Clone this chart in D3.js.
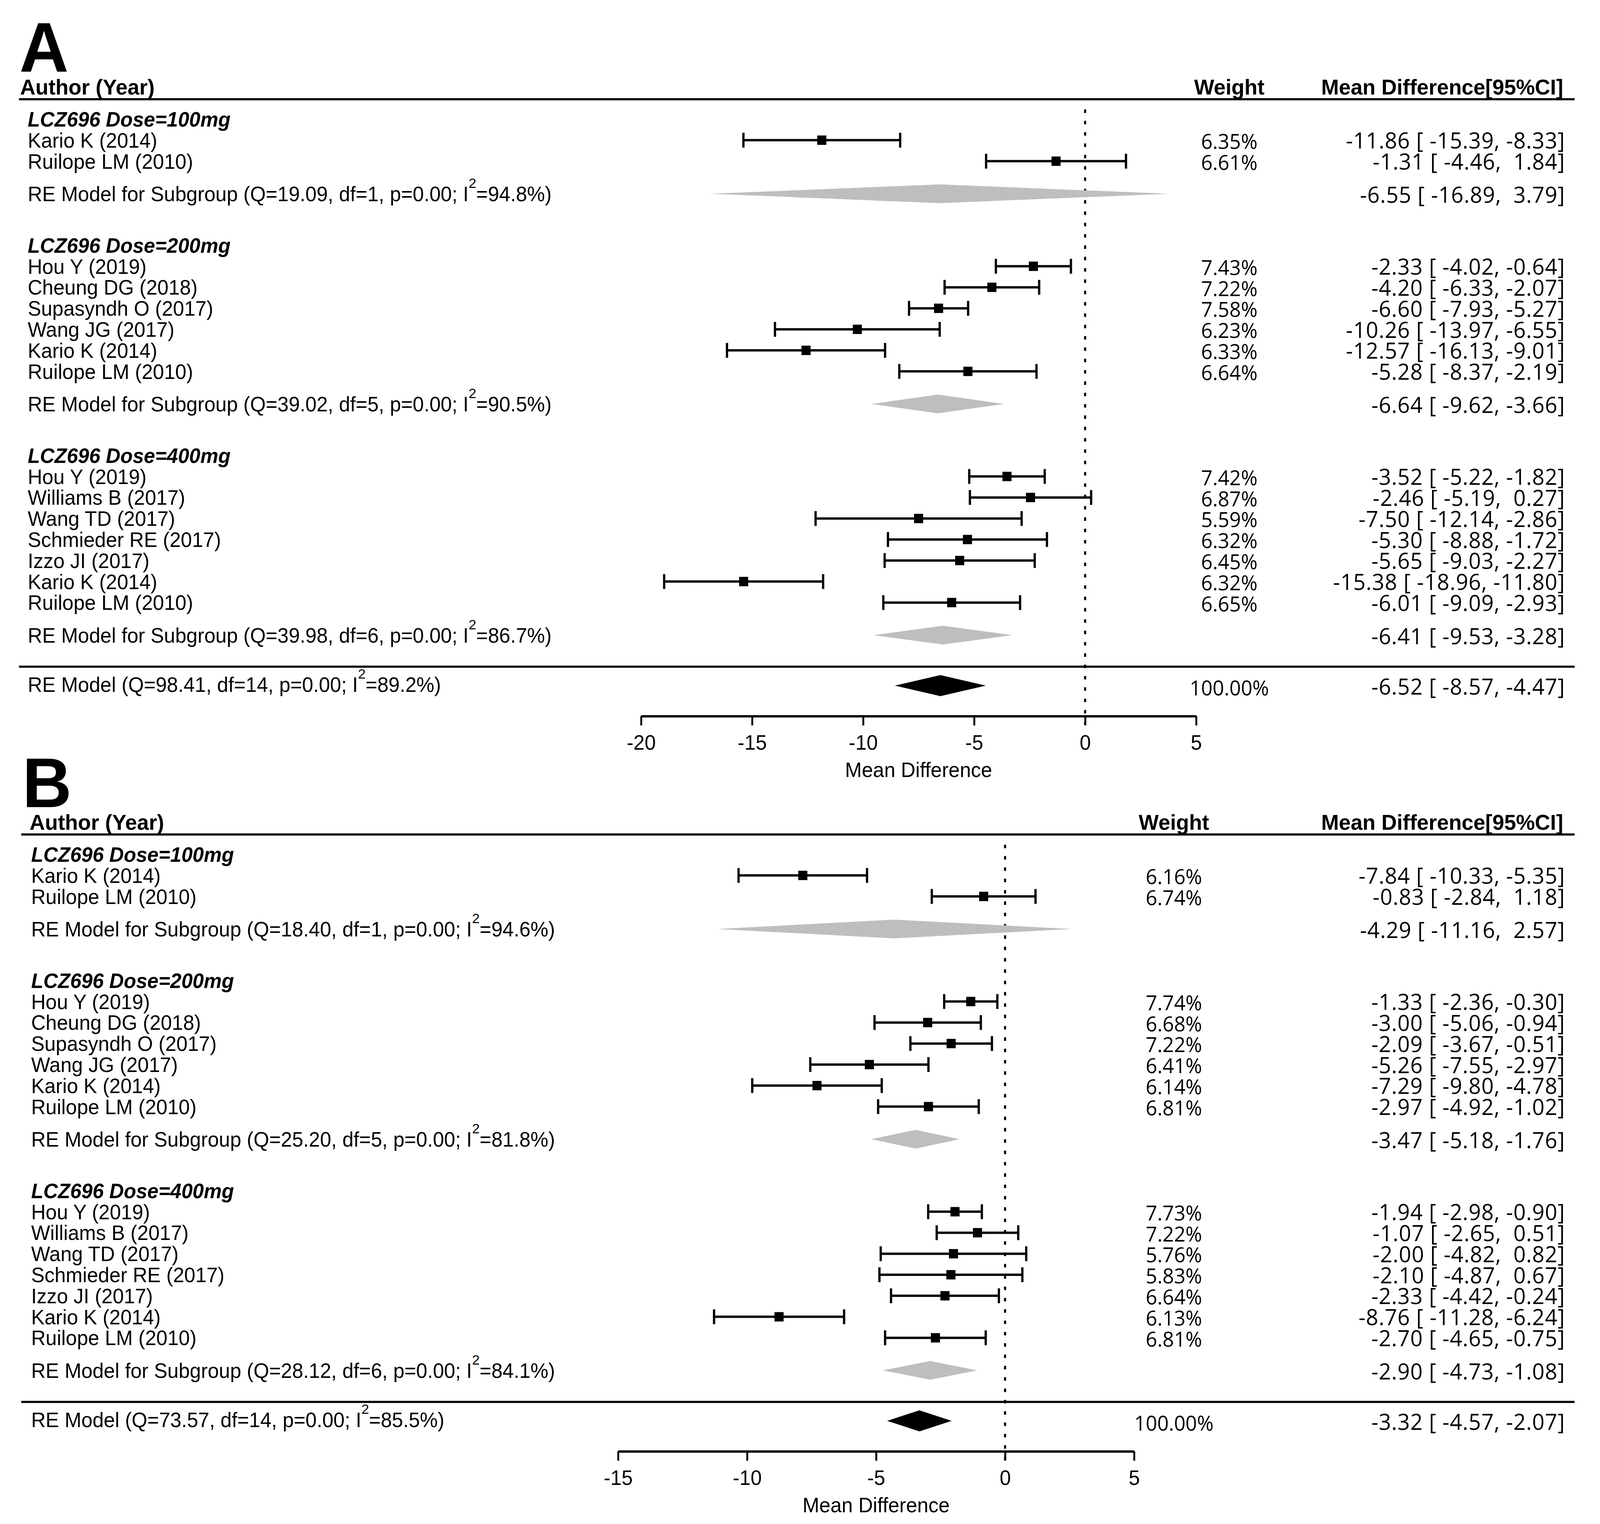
<!DOCTYPE html>
<html>
<head>
<meta charset="utf-8">
<script src="https://cdn.jsdelivr.net/npm/d3@7"></script>
<style>
    html, body { margin: 0; padding: 0; background: #fff; overflow: hidden; }
    #chart svg { display: block; width: 100vw; height: 100vh; }
    text { font-family: "Liberation Sans", Arial, sans-serif; fill: #000; }
    .num { font-family: "Open Sans", sans-serif; white-space: pre; }
    .ci { letter-spacing: 1px; }
</style>
</head>
<body>
<div id="chart"></div>
<script>
// ---- data ----
const doseGroups = ["LCZ696 Dose=100mg", "LCZ696 Dose=200mg", "LCZ696 Dose=400mg"];
const studies = ["Kario K (2014)", "Ruilope LM (2010)",
    "Hou Y (2019)", "Cheung DG (2018)", "Supasyndh O (2017)", "Wang JG (2017)", "Kario K (2014)", "Ruilope LM (2010)",
    "Hou Y (2019)", "Williams B (2017)", "Wang TD (2017)", "Schmieder RE (2017)", "Izzo JI (2017)", "Kario K (2014)", "Ruilope LM (2010)"];
const studyGroup = [0, 0, 1, 1, 1, 1, 1, 1, 2, 2, 2, 2, 2, 2, 2];
const xTicksA = [-20, -15, -10, -5, 0, 5];
const xTicksB = [-15, -10, -5, 0, 5];

// panel A
const meanA = [-11.86, -1.31, -2.33, -4.20, -6.60, -10.26, -12.57, -5.28, -3.52, -2.46, -7.50, -5.30, -5.65, -15.38, -6.01];
const lowA = [-15.39, -4.46, -4.02, -6.33, -7.93, -13.97, -16.13, -8.37, -5.22, -5.19, -12.14, -8.88, -9.03, -18.96, -9.09];
const highA = [-8.33, 1.84, -0.64, -2.07, -5.27, -6.55, -9.01, -2.19, -1.82, 0.27, -2.86, -1.72, -2.27, -11.80, -2.93];
const weightA = [6.35, 6.61, 7.43, 7.22, 7.58, 6.23, 6.33, 6.64, 7.42, 6.87, 5.59, 6.32, 6.45, 6.32, 6.65];
const subMeanA = [-6.55, -6.64, -6.41];
const subLowA = [-16.89, -9.62, -9.53];
const subHighA = [3.79, -3.66, -3.28];
const subQA = [19.09, 39.02, 39.98];
const subDfA = [1, 5, 6];
const subI2A = [94.8, 90.5, 86.7];
const totalA = [-6.52, -8.57, -4.47];   // mean, low, high
const totalHetA = [98.41, 14, 89.2];    // Q, df, I2

// panel B
const meanB = [-7.84, -0.83, -1.33, -3.00, -2.09, -5.26, -7.29, -2.97, -1.94, -1.07, -2.00, -2.10, -2.33, -8.76, -2.70];
const lowB = [-10.33, -2.84, -2.36, -5.06, -3.67, -7.55, -9.80, -4.92, -2.98, -2.65, -4.82, -4.87, -4.42, -11.28, -4.65];
const highB = [-5.35, 1.18, -0.30, -0.94, -0.51, -2.97, -4.78, -1.02, -0.90, 0.51, 0.82, 0.67, -0.24, -6.24, -0.75];
const weightB = [6.16, 6.74, 7.74, 6.68, 7.22, 6.41, 6.14, 6.81, 7.73, 7.22, 5.76, 5.83, 6.64, 6.13, 6.81];
const subMeanB = [-4.29, -3.47, -2.90];
const subLowB = [-11.16, -5.18, -4.73];
const subHighB = [2.57, -1.76, -1.08];
const subQB = [18.40, 25.20, 28.12];
const subDfB = [1, 5, 6];
const subI2B = [94.6, 81.8, 84.1];
const totalB = [-3.32, -4.57, -2.07];
const totalHetB = [73.57, 14, 85.5];

// ---- layout ----
const W = 4217, H = 3901;
const FS = 53;      // row text
const CIFS = 57;    // right-hand CI column

// svg fills the window; drawing coordinates stay in 4217 x 3901 units
let svg = d3.select("#chart").append("svg")
    .attr("viewBox", `0 0 ${W} ${H}`)
    .attr("preserveAspectRatio", "none");

svg.append("rect").attr("width", W).attr("height", H).attr("fill", "#fff");

function ciText(m, l, h) {
    let hs = (h >= 0 ? " " : "") + h.toFixed(2);
    return `${m.toFixed(2)} [ ${l.toFixed(2)}, ${hs}]`;
}

// text with superscript 2 in I^2
function hetLabel(sel, prefix, q, df, i2) {
    sel.append("tspan").text(`${prefix} (Q=${q.toFixed(2)}, df=${df}, p=0.00; I`);
    sel.append("tspan").attr("dy", -34).attr("font-size", 36).text("2");
    sel.append("tspan").attr("dy", 34).attr("font-size", FS).text(`=${i2.toFixed(1)}%)`);
}

function drawPanel(cfg) {
    let g = svg.append("g").attr("transform", `translate(0, ${cfg.offset})`);

    let x = d3.scaleLinear().domain(cfg.domain).range(cfg.range);
    let y = d3.scaleLinear().domain([0, 1]).range([305, 305 + 53.8]);

    // row numbers for titles, studies and subgroup summaries
    let titleRow = [], studyRow = [], subRow = [];
    let r = 0;
    for (let k = 0; k < doseGroups.length; k++) {
        titleRow.push(r);
        r += 1;
        studies.forEach((s, i) => {
            if (studyGroup[i] === k) { studyRow[i] = r; r += 1; }
        });
        subRow.push(r - 1 + 1.55);
        r = r - 1 + 4;
    }
    let lastStudy = d3.max(studyRow);
    let sepRow = lastStudy + 3.05;
    let totalRow = sepRow + 0.9;
    let axisY = y(sepRow + 2.35);

    // panel letter
    g.append("text")
        .attr("x", cfg.letterX).attr("y", 184)
        .attr("font-size", 180).attr("font-weight", "bold")
        .text(cfg.letter);

    // headers
    g.append("text").attr("x", cfg.authorX).attr("y", 242)
        .attr("font-size", 56).attr("font-weight", "bold").text("Author (Year)");
    g.append("text").attr("x", cfg.weightX).attr("y", 242).attr("text-anchor", "middle")
        .attr("font-size", 56).attr("font-weight", "bold").text("Weight");
    g.append("text").attr("x", 4120).attr("y", 242).attr("text-anchor", "end")
        .attr("font-size", 56).attr("font-weight", "bold").text("Mean Difference[95%CI]");

    g.append("line").attr("x1", cfg.lineX).attr("x2", 4150)
        .attr("y1", y(-0.95)).attr("y2", y(-0.95))
        .attr("stroke", "#000").attr("stroke-width", 5.5);
    g.append("line").attr("x1", cfg.lineX).attr("x2", 4150)
        .attr("y1", y(sepRow)).attr("y2", y(sepRow))
        .attr("stroke", "#000").attr("stroke-width", 5.5);

    // reference line at 0
    g.append("line").attr("x1", x(0)).attr("x2", x(0))
        .attr("y1", y(-0.46)).attr("y2", axisY + 22)
        .attr("stroke", "#000").attr("stroke-width", 5.5)
        .attr("stroke-dasharray", "9 20");

    // group titles
    doseGroups.forEach((d, k) => {
        g.append("text").attr("x", cfg.textX).attr("y", y(titleRow[k])).attr("dy", "0.36em")
            .attr("font-size", FS).attr("font-weight", "bold").attr("font-style", "italic")
            .text(d);
    });

    // studies
    let idx = d3.range(studies.length);
    let rowG = g.selectAll(".study").data(idx).enter().append("g").attr("class", "study");

    rowG.append("text").attr("x", cfg.textX).attr("y", i => y(studyRow[i])).attr("dy", "0.36em")
        .attr("font-size", FS).text(i => studies[i]);
    rowG.append("line")
        .attr("x1", i => x(cfg.low[i])).attr("x2", i => x(cfg.high[i]))
        .attr("y1", i => y(studyRow[i])).attr("y2", i => y(studyRow[i]))
        .attr("stroke", "#000").attr("stroke-width", 6);
    [cfg.low, cfg.high].forEach(arr => {
        rowG.append("line")
            .attr("x1", i => x(arr[i])).attr("x2", i => x(arr[i]))
            .attr("y1", i => y(studyRow[i]) - 19).attr("y2", i => y(studyRow[i]) + 19)
            .attr("stroke", "#000").attr("stroke-width", 6);
    });
    rowG.append("rect")
        .attr("x", i => x(cfg.mean[i]) - 12).attr("y", i => y(studyRow[i]) - 12)
        .attr("width", 24).attr("height", 24).attr("fill", "#000");
    rowG.append("text").attr("class", "num")
        .attr("x", cfg.weightX).attr("y", i => y(studyRow[i])).attr("dy", "0.42em")
        .attr("text-anchor", "middle").attr("font-size", FS)
        .text(i => cfg.weight[i].toFixed(2) + "%");
    rowG.append("text").attr("class", "num ci")
        .attr("x", 4125).attr("y", i => y(studyRow[i])).attr("dy", "0.38em")
        .attr("text-anchor", "end").attr("font-size", CIFS)
        .text(i => ciText(cfg.mean[i], cfg.low[i], cfg.high[i]));

    // subgroup summaries
    let diamond = (m, l, h, yc, hh) =>
        `${x(l)},${yc} ${x(m)},${yc - hh} ${x(h)},${yc} ${x(m)},${yc + hh}`;

    doseGroups.forEach((d, k) => {
        let yc = y(subRow[k]);
        g.append("polygon").attr("points", diamond(cfg.subMean[k], cfg.subLow[k], cfg.subHigh[k], yc, 24))
            .attr("fill", "#bebebe");
        let t = g.append("text").attr("x", cfg.textX).attr("y", yc).attr("dy", "0.36em").attr("font-size", FS);
        hetLabel(t, "RE Model for Subgroup", cfg.subQ[k], cfg.subDf[k], cfg.subI2[k]);
        g.append("text").attr("class", "num ci").attr("x", 4125).attr("y", yc).attr("dy", "0.40em")
            .attr("text-anchor", "end").attr("font-size", CIFS)
            .text(ciText(cfg.subMean[k], cfg.subLow[k], cfg.subHigh[k]));
    });

    // overall
    let yt = y(totalRow);
    g.append("polygon").attr("points", diamond(cfg.total[0], cfg.total[1], cfg.total[2], yt, 27))
        .attr("fill", "#000");
    let tt = g.append("text").attr("x", cfg.textX).attr("y", yt).attr("dy", "0.30em").attr("font-size", FS);
    hetLabel(tt, "RE Model", cfg.totalHet[0], cfg.totalHet[1], cfg.totalHet[2]);
    g.append("text").attr("class", "num").attr("x", cfg.weightX).attr("y", yt).attr("dy", "0.48em")
        .attr("text-anchor", "middle").attr("font-size", FS).text("100.00%");
    g.append("text").attr("class", "num ci").attr("x", 4125).attr("y", yt).attr("dy", "0.40em")
        .attr("text-anchor", "end").attr("font-size", CIFS)
        .text(ciText(cfg.total[0], cfg.total[1], cfg.total[2]));

    // x axis
    let axis = g.append("g")
        .attr("transform", `translate(0, ${axisY})`)
        .call(d3.axisBottom(x).tickValues(cfg.ticks).tickSize(24).tickSizeOuter(0).tickPadding(24)
            .tickFormat(d3.format("d")));
    axis.select(".domain").attr("stroke", "#000").attr("stroke-width", 6);
    axis.selectAll(".tick line").attr("stroke", "#000").attr("stroke-width", 5);
    axis.selectAll(".tick text")
        .attr("font-family", "'Liberation Sans', Arial, sans-serif")
        .attr("font-size", FS).attr("fill", "#000")
        .text(d => d < 0 ? "-" + Math.abs(d) : d);

    g.append("text")
        .attr("x", (x.range()[0] + x.range()[1]) / 2)
        .attr("y", axisY + 156)
        .attr("text-anchor", "middle").attr("font-size", FS)
        .text("Mean Difference");
}

drawPanel({
    letter: "A", offset: 0, letterX: 51, authorX: 53, textX: 73, lineX: 50, weightX: 3240,
    domain: [-20, 5], range: [1689.6, 3152.6], ticks: xTicksA,
    mean: meanA, low: lowA, high: highA, weight: weightA,
    subMean: subMeanA, subLow: subLowA, subHigh: subHighA, subQ: subQA, subDf: subDfA, subI2: subI2A,
    total: totalA, totalHet: totalHetA
});

drawPanel({
    letter: "B", offset: 1882, letterX: 59, authorX: 78, textX: 82, lineX: 56, weightX: 3094,
    domain: [-15, 5], range: [1629, 2989], ticks: xTicksB,
    mean: meanB, low: lowB, high: highB, weight: weightB,
    subMean: subMeanB, subLow: subLowB, subHigh: subHighB, subQ: subQB, subDf: subDfB, subI2: subI2B,
    total: totalB, totalHet: totalHetB
});
</script>
</body>
</html>
